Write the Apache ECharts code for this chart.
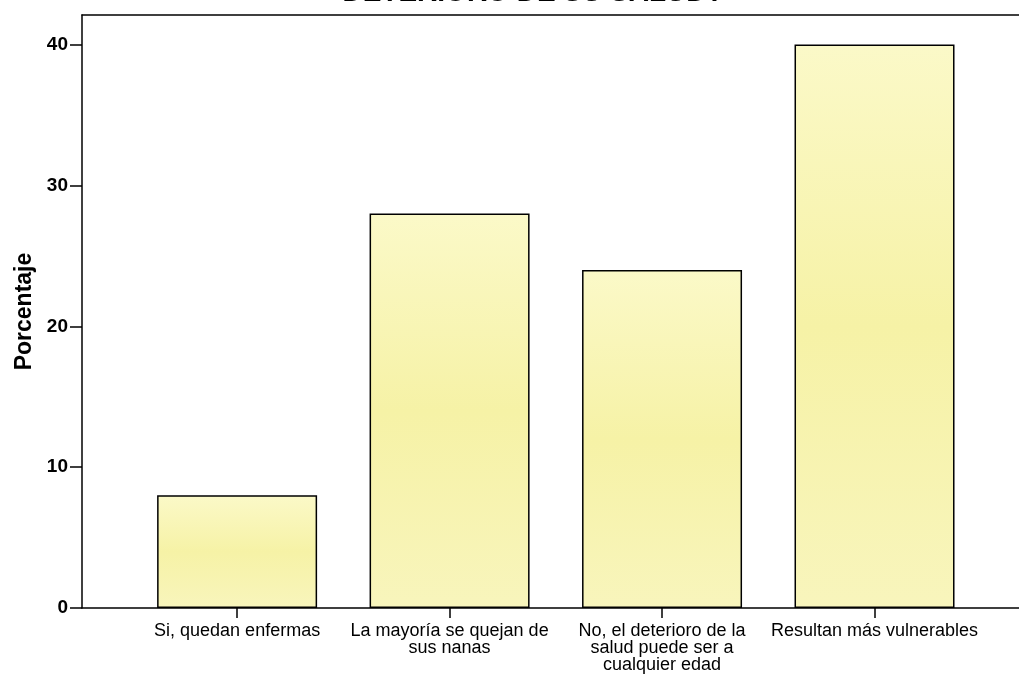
<!DOCTYPE html>
<html>
<head>
<meta charset="utf-8">
<script src="https://cdn.jsdelivr.net/npm/echarts@6/dist/echarts.min.js"></script>
<style>
html,body{margin:0;padding:0;background:#fff;}
#chart{width:1019px;height:675px;}
</style>
</head>
<body>
<div id="chart"></div>
<script>
const titleText = "DETERIORO DE SU SALUD?";
const categories = [
  "Si, quedan enfermas",
  "La mayoría se quejan de\nsus nanas",
  "No, el deterioro de la\nsalud puede ser a\ncualquier edad",
  "Resultan más vulnerables"
];
const values = [8, 28, 24, 40];
const yTicks = [0, 10, 20, 30, 40];
const yName = "Porcentaje";

const catIndex = categories.map((c, i) => i);
const FONT = "Liberation Sans, Arial, sans-serif";

const chart = echarts.init(document.getElementById('chart'), null, {renderer: 'canvas'});
chart.setOption({
  backgroundColor: '#ffffff',
  animation: false,
  title: {
    text: titleText,
    left: 528,
    textAlign: 'center',
    top: -26,
    textStyle: {fontFamily: FONT, fontSize: 28, fontWeight: 'bold', color: '#000'}
  },
  grid: {left: 82, right: 0, top: 15, bottom: 67, containLabel: false},
  xAxis: [{
    type: 'value',
    min: -0.73,
    max: 3.68,
    splitLine: {show: false},
    axisLine: {show: true, onZero: false, lineStyle: {color: '#000', width: 1.5}},
    axisTick: {show: true, customValues: catIndex, length: 10, lineStyle: {color: '#000', width: 1.5}},
    axisLabel: {
      customValues: catIndex,
      formatter: v => categories[Math.round(v)],
      color: '#000', fontFamily: FONT, fontSize: 18, lineHeight: 17, margin: 15
    }
  }, {
    type: 'value',
    position: 'top',
    min: -0.73,
    max: 3.68,
    splitLine: {show: false},
    axisLine: {show: true, onZero: false, lineStyle: {color: '#000', width: 1.5}},
    axisTick: {show: false},
    axisLabel: {show: false}
  }],
  yAxis: {
    type: 'value',
    min: 0,
    max: 42.1,
    name: yName,
    nameLocation: 'middle',
    nameGap: 44,
    nameTextStyle: {fontFamily: FONT, fontSize: 23, fontWeight: 'bold', color: '#000'},
    splitLine: {show: false},
    axisLine: {show: true, onZero: false, lineStyle: {color: '#000', width: 1.5}},
    axisTick: {show: true, customValues: yTicks, length: 12, lineStyle: {color: '#000', width: 1.5}},
    axisLabel: {customValues: yTicks, color: '#000', fontFamily: FONT, fontSize: 19, fontWeight: 'bold', margin: 14}
  },
  series: [{
    type: 'bar',
    xAxisIndex: 0,
    barWidth: 160,
    data: values.map((v, i) => [i, v]),
    itemStyle: {
      color: {
        type: 'linear', x: 0, y: 0, x2: 0, y2: 1,
        colorStops: [
          {offset: 0, color: '#fbf9c8'},
          {offset: 0.5, color: '#f6f2a6'},
          {offset: 1, color: '#f8f5bc'}
        ]
      },
      borderColor: '#000',
      borderWidth: 1.5
    }
  }]
});
</script>
</body>
</html>
